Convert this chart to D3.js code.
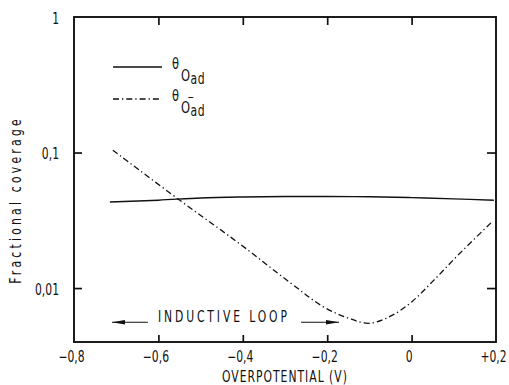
<!DOCTYPE html>
<html>
<head>
<meta charset="utf-8">
<script src="https://cdn.jsdelivr.net/npm/d3@7"></script>
<style>
  html, body { margin: 0; padding: 0; background: #fff; }
  svg { display: block; }
  text { font-family: "DejaVu Sans", sans-serif; fill: #111; }
</style>
</head>
<body>
<svg id="chart" width="509" height="385"></svg>
<script>
// Overpotential (V) and fractional coverages
const potentialSolid = [-0.715, -0.6, -0.5, -0.4, -0.3, -0.2, -0.1, 0, 0.1, 0.195];
const thetaOad = [0.0431, 0.0445, 0.0462, 0.047, 0.0474, 0.0474, 0.0472, 0.0465, 0.0455, 0.0445];

const potentialIon = [-0.708, -0.55, -0.41, -0.29, -0.21, -0.15, -0.1, -0.05, 0, 0.05, 0.11, 0.19];
const thetaOadIon = [0.104, 0.0446, 0.0215, 0.0111, 0.0073, 0.0060, 0.0055, 0.0062, 0.0079, 0.0112, 0.0175, 0.0307];

const xTicks = [-0.8, -0.6, -0.4, -0.2, 0, 0.2];
const xTickLabels = ["\u22120,8", "\u22120,6", "\u22120,4", "\u22120,2", "0", "+0,2"];
const yTicks = [1, 0.1, 0.01];
const yTickLabels = ["1", "0,1", "0,01"];

// Inductive loop: arrow spans at the ends of the label
const loopLeft = [-0.71, -0.625];
const loopRight = [-0.262, -0.172];
const loopLevel = 0.0056;

const svg = d3.select("#chart");
const plot = { left: 74, right: 496, top: 17, bottom: 342 };

const x = d3.scaleLinear().domain([-0.8, 0.2]).range([plot.left, plot.right]);
const y = d3.scaleLog().domain([0.004, 1]).range([plot.bottom, plot.top]);

const ink = "#111";
const narrow = 0.72;          // horizontal squeeze for the lettering
const fontSize = "15px";

// Narrow lettering helper
function label(parent, px, py, str, opts = {}) {
  const t = parent.append("text")
    .attr("transform", `translate(${px},${py})${opts.rotate ? ` rotate(${opts.rotate})` : ""} scale(${opts.sx || narrow},1)`)
    .style("font-size", opts.size || fontSize)
    .attr("text-anchor", opts.anchor || "start")
    .text(str);
  if (opts.spacing) t.style("letter-spacing", opts.spacing);
  return t;
}

// Frame
svg.append("rect")
  .attr("x", plot.left).attr("y", plot.top)
  .attr("width", plot.right - plot.left).attr("height", plot.bottom - plot.top)
  .attr("fill", "none").attr("stroke", ink).attr("stroke-width", 1.9);

// Bottom axis: inward ticks, labels below
const xAxisB = d3.axisBottom(x).tickValues(xTicks)
  .tickSizeInner(-7).tickSizeOuter(0)
  .tickFormat((d, i) => xTickLabels[i]);
const gB = svg.append("g").attr("transform", `translate(0,${plot.bottom})`).call(xAxisB);
gB.select(".domain").remove();
gB.selectAll(".tick line").attr("stroke", ink).attr("stroke-width", 1.7)
  .filter(d => d === -0.8 || d === 0.2).remove();
gB.selectAll(".tick text")
  .attr("fill", ink).attr("y", 20).attr("dy", null)
  .attr("transform", `translate(-3,0) scale(${narrow},1)`)
  .style("font-size", fontSize).style("font-family", "DejaVu Sans, sans-serif");

// Top axis: inward ticks only
const xAxisT = d3.axisTop(x).tickValues(xTicks.slice(1, -1))
  .tickSizeInner(-8).tickSizeOuter(0).tickFormat("");
const gT = svg.append("g").attr("transform", `translate(0,${plot.top})`).call(xAxisT);
gT.select(".domain").remove();
gT.selectAll(".tick line").attr("stroke", ink).attr("stroke-width", 1.7);

// Left axis
const yAxisL = d3.axisLeft(y).tickValues(yTicks)
  .tickSizeInner(-8).tickSizeOuter(0)
  .tickFormat((d, i) => yTickLabels[i]);
const gL = svg.append("g").attr("transform", `translate(${plot.left},0)`).call(yAxisL);
gL.select(".domain").remove();
gL.selectAll(".tick line").attr("stroke", ink).attr("stroke-width", 1.7)
  .filter(d => d === 1).remove();
gL.selectAll(".tick text")
  .attr("fill", ink).attr("x", 0).attr("y", 6).attr("dy", null)
  .attr("transform", `translate(-15,0) scale(${narrow},1)`)
  .style("font-size", fontSize).style("font-family", "DejaVu Sans, sans-serif");

// Right axis
const yAxisR = d3.axisRight(y).tickValues(yTicks.slice(1))
  .tickSizeInner(-9).tickSizeOuter(0).tickFormat("");
const gR = svg.append("g").attr("transform", `translate(${plot.right},0)`).call(yAxisR);
gR.select(".domain").remove();
gR.selectAll(".tick line").attr("stroke", ink).attr("stroke-width", 1.7);

// Curves
const line = d3.line().x(d => x(d[0])).y(d => y(d[1])).curve(d3.curveCatmullRom.alpha(0.5));

svg.append("path")
  .datum(potentialSolid.map((p, i) => [p, thetaOad[i]]))
  .attr("d", line).attr("fill", "none").attr("stroke", ink).attr("stroke-width", 1.4);

const dashDot = "6,3,1.3,3";
svg.append("path")
  .datum(potentialIon.map((p, i) => [p, thetaOadIon[i]]))
  .attr("d", line).attr("fill", "none").attr("stroke", ink).attr("stroke-width", 1.3)
  .attr("stroke-dasharray", dashDot);

// Legend: θ with subscript O_ad (and O⁻_ad for the ionic species)
const legend = svg.append("g");
const legendRows = [
  { y: 67, dash: null, ion: false },
  { y: 99, dash: dashDot, ion: true }
];
const lsx = 0.72;
legendRows.forEach(r => {
  legend.append("line")
    .attr("x1", 113).attr("x2", 162).attr("y1", r.y).attr("y2", r.y)
    .attr("stroke", ink).attr("stroke-width", 1.3)
    .attr("stroke-dasharray", r.dash);
  const t = legend.append("text")
    .attr("transform", `translate(172,${r.y + 2}) scale(${lsx},1)`);
  t.append("tspan").style("font-size", "16px").text("\u03b8");
  t.append("tspan").attr("x", (181 - 172) / lsx).attr("dy", 12).style("font-size", "16px").text("O");
  if (r.ion) {
    t.append("tspan").attr("x", (187.5 - 172) / lsx).attr("dy", -12).style("font-size", "11px").text("\u2212");
    t.append("tspan").attr("x", (190.5 - 172) / lsx).attr("dy", 15).style("font-size", "15px")
      .style("letter-spacing", "1px").text("ad");
  } else {
    t.append("tspan").attr("x", (190.5 - 172) / lsx).attr("dy", 3).style("font-size", "15px")
      .style("letter-spacing", "1px").text("ad");
  }
});

// Inductive loop annotation
const loopY = y(loopLevel);
const arrowHead = (tipX, dir) => {
  const len = 13, half = 2.3;
  return `M${tipX},${loopY} L${tipX + dir * len},${loopY - half} L${tipX + dir * len},${loopY + half} Z`;
};
svg.append("line").attr("x1", x(loopLeft[0])).attr("x2", x(loopLeft[1]))
  .attr("y1", loopY).attr("y2", loopY).attr("stroke", ink).attr("stroke-width", 1.1);
svg.append("path").attr("d", arrowHead(x(loopLeft[0]), 1)).attr("fill", ink);
svg.append("line").attr("x1", x(loopRight[0])).attr("x2", x(loopRight[1]))
  .attr("y1", loopY).attr("y2", loopY).attr("stroke", ink).attr("stroke-width", 1.1);
svg.append("path").attr("d", arrowHead(x(loopRight[1]), -1)).attr("fill", ink);
label(svg, 158, loopY, "INDUCTIVE LOOP", { spacing: "4px" });

// Axis titles
label(svg, 222, 382, "OVERPOTENTIAL (V)", { spacing: "1.4px" });
label(svg, 21, 200, "Fractional coverage", { rotate: -90, anchor: "middle", spacing: "4.5px" });
</script>
</body>
</html>
